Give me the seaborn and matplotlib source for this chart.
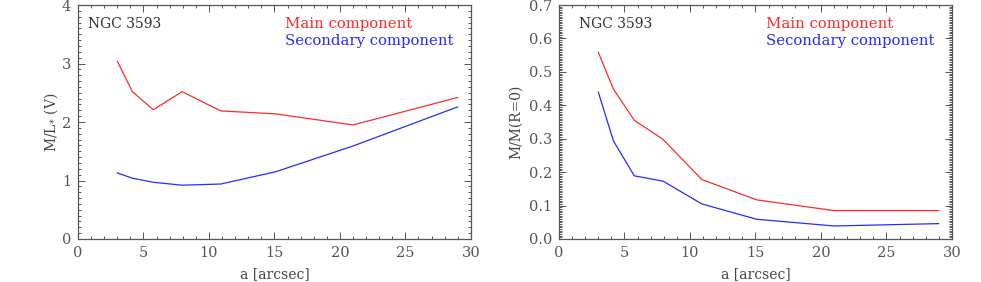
import numpy as np
import pandas as pd
import matplotlib
matplotlib.use('Agg')
import matplotlib.pyplot as plt
from matplotlib.ticker import MultipleLocator
import seaborn as sns

# radius along the major axis [arcsec]
a_arcsec = [3.0, 4.15, 5.75, 7.95, 10.9, 15.1, 21.0, 29.0]

# M/L* (V) for the two components
ml_main = [3.04, 2.52, 2.21, 2.52, 2.19, 2.14, 1.95, 2.42]
ml_second = [1.13, 1.04, 0.97, 0.92, 0.94, 1.15, 1.59, 2.26]

# M/M(R=0)
mm_main = [0.559, 0.449, 0.355, 0.298, 0.178, 0.117, 0.085, 0.085]
mm_second = [0.44, 0.294, 0.189, 0.173, 0.105, 0.059, 0.039, 0.046]

comp_names = ['Main component', 'Secondary component']
comp_colors = ['#ff2a2a', '#2a2aff']

df = pd.DataFrame({
    'a': a_arcsec * 2,
    'ml': ml_main + ml_second,
    'mm': mm_main + mm_second,
    'comp': [comp_names[0]] * len(a_arcsec) + [comp_names[1]] * len(a_arcsec),
})

sns.set_style('ticks')
plt.rcParams['font.family'] = ['DejaVu Serif']
plt.rcParams['font.size'] = 10
txt = '#444444'
plt.rcParams['text.color'] = txt
plt.rcParams['axes.labelcolor'] = txt
plt.rcParams['xtick.color'] = '#555555'
plt.rcParams['ytick.color'] = '#555555'
plt.rcParams['axes.edgecolor'] = '#555555'

fig = plt.figure(figsize=(9.81, 2.82), dpi=100)
ax1 = fig.add_axes([0.0795, 0.1525, 0.4005, 0.8295])
ax2 = fig.add_axes([0.5698, 0.1525, 0.4006, 0.8295])

pal = dict(zip(comp_names, comp_colors))
sns.lineplot(data=df, x='a', y='ml', hue='comp', palette=pal, lw=0.9, ax=ax1, legend=False)
sns.lineplot(data=df, x='a', y='mm', hue='comp', palette=pal, lw=0.9, ax=ax2, legend=False)

ax1.set_ylim(0, 4)
ax1.yaxis.set_major_locator(MultipleLocator(1))
ax1.yaxis.set_minor_locator(MultipleLocator(0.1))
ax1.set_ylabel(r'M/L$_{*}$ (V)', labelpad=1)

ax2.set_ylim(0, 0.7)
ax2.yaxis.set_major_locator(MultipleLocator(0.1))
ax2.yaxis.set_minor_locator(MultipleLocator(0.005))
ax2.yaxis.set_major_formatter(matplotlib.ticker.FormatStrFormatter('%.1f'))
ax2.set_ylabel('M/M(R=0)')

for ax, nx in [(ax1, 0.025), (ax2, 0.051)]:
    ax.set_xlim(0, 30)
    ax.xaxis.set_major_locator(MultipleLocator(5))
    ax.xaxis.set_minor_locator(MultipleLocator(1))
    ax.set_xlabel('a [arcsec]', labelpad=5)
    for s in ax.spines.values():
        s.set_visible(True)
        s.set_linewidth(0.9)
    ax.tick_params(which='both', direction='in', top=True, right=True, width=0.7)
    ax.tick_params(which='major', length=5, labelsize=10.5, pad=5)
    ax.tick_params(which='minor', length=2.5)
    ax.text(nx, 0.92, 'NGC 3593', transform=ax.transAxes, fontsize=10, va='center', color='#333333')
    ax.text(0.527, 0.92, comp_names[0], transform=ax.transAxes, fontsize=10.7, va='center', color=comp_colors[0])
    ax.text(0.527, 0.846, comp_names[1], transform=ax.transAxes, fontsize=10.7, va='center', color=comp_colors[1])

fig.savefig('out.png', dpi=100)
